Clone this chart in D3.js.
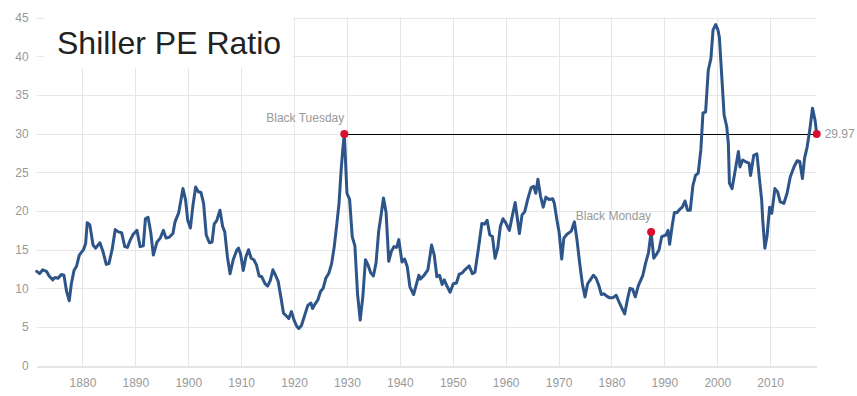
<!DOCTYPE html>
<html>
<head>
<meta charset="utf-8">
<script src="https://cdn.jsdelivr.net/npm/d3@7"></script>
<style>
  html, body { margin: 0; padding: 0; background: #fff; }
  svg { display: block; font-family: "Liberation Sans", Arial, sans-serif; }
</style>
</head>
<body>
<svg id="chart" width="857" height="396"></svg>
<script>
// ---- data ----
const years = [
  1871.35,1871.9,1872.5,1873.2,1873.7,1874.4,1874.8,1875.4,1876.0,1876.5,1877.0,1877.5,1877.9,1878.4,1878.9,1879.4,
  1880.2,1880.6,1880.9,1881.4,1882.0,1882.5,1883.3,1883.9,1884.5,1885.0,1885.6,1886.2,1886.8,1887.4,1888.0,1888.5,
  1889.0,1889.6,1890.3,1890.9,1891.5,1891.9,1892.4,1892.9,1893.4,1894.1,1894.7,1895.3,1895.8,1896.4,1897.1,1897.5,
  1898.2,1899.0,1899.5,1899.9,1900.4,1900.9,1901.4,1901.9,1902.4,1902.9,1903.4,1904.0,1904.5,1904.9,1905.4,1906.0,
  1906.5,1906.9,1907.4,1907.9,1908.5,1909.2,1909.5,1909.9,1910.4,1910.9,1911.4,1911.9,1912.4,1912.9,1913.4,1913.9,
  1914.5,1915.0,1915.5,1916.0,1916.5,1917.0,1917.5,1918.0,1918.6,1919.0,1919.5,1920.0,1920.5,1920.9,1921.4,1922.0,
  1922.6,1923.2,1923.5,1924.0,1924.5,1925.0,1925.5,1926.0,1926.6,1927.1,1927.6,1928.1,1928.5,1928.9,1929.2,1929.5,
  1930.0,1930.5,1931.0,1931.5,1932.0,1932.5,1933.0,1933.5,1934.0,1934.5,1935.0,1935.5,1936.0,1936.5,1936.9,1937.4,
  1937.9,1938.4,1938.9,1939.4,1939.8,1940.4,1940.9,1941.4,1941.9,1942.6,1943.6,1943.9,1944.6,1945.3,1946.0,1946.5,
  1947.0,1947.5,1948.0,1948.4,1948.9,1949.5,1950.1,1950.7,1951.2,1951.8,1952.3,1953.1,1953.7,1954.2,1954.8,1955.5,
  1956.0,1956.5,1957.0,1957.5,1958.0,1958.5,1959.0,1959.5,1960.0,1960.7,1961.3,1961.8,1962.6,1963.1,1963.6,1964.2,
  1964.8,1965.3,1965.7,1966.1,1966.6,1967.1,1967.6,1968.2,1968.9,1969.2,1969.7,1970.1,1970.6,1971.0,1971.6,1972.4,
  1973.0,1973.5,1974.0,1974.5,1975.0,1975.5,1976.0,1976.6,1977.1,1977.6,1978.1,1978.6,1979.1,1979.6,1980.3,1980.9,
  1981.4,1982.0,1982.5,1983.0,1983.5,1984.0,1984.5,1985.1,1985.9,1986.5,1987.0,1987.5,1988.0,1988.6,1989.0,1989.5,
  1990.3,1990.7,1991.0,1991.5,1991.9,1992.4,1992.9,1993.4,1993.9,1994.4,1994.9,1995.4,1995.9,1996.4,1996.9,1997.3,
  1997.8,1998.3,1998.8,1999.2,1999.7,2000.1,2000.4,2000.9,2001.3,2001.8,2002.1,2002.3,2002.8,2003.3,2004.0,2004.3,
  2004.8,2005.3,2006.0,2006.3,2006.9,2007.5,2008.0,2008.4,2008.6,2009.0,2009.4,2009.9,2010.3,2010.9,2011.4,2011.9,
  2012.6,2013.2,2013.8,2014.5,2015.1,2015.6,2016.1,2016.5,2017.0,2017.5,2018.0,2018.5,2018.8
];
const peRatio = [
  12.2,11.9,12.4,12.2,11.6,11.1,11.4,11.3,11.8,11.7,9.6,8.4,10.6,12.3,12.9,14.3,
  15.0,15.8,18.5,18.2,15.6,15.2,15.9,14.7,13.1,13.2,15.0,17.6,17.3,17.2,15.4,15.3,
  16.2,17.0,17.5,15.4,15.5,19.0,19.2,17.3,14.3,16.0,16.5,17.5,16.5,16.6,17.1,18.6,
  19.8,22.9,21.4,18.8,17.8,20.8,23.1,22.5,22.4,21.0,16.9,15.9,16.0,18.3,18.8,20.1,
  18.0,17.3,14.1,11.9,13.7,15.0,15.2,14.4,12.3,14.1,15.0,13.9,13.7,13.0,11.6,11.5,
  10.6,10.3,11.0,12.4,11.7,10.9,8.9,6.8,6.4,6.1,7.0,5.9,5.1,4.8,5.2,6.5,
  7.8,8.1,7.4,8.0,8.5,9.6,10.0,11.3,12.0,13.2,15.4,18.4,21.0,25.3,27.9,29.97,
  22.3,21.5,16.7,15.5,9.3,5.9,8.9,13.7,13.0,12.0,11.6,13.3,17.4,19.7,21.7,19.8,
  13.5,14.8,15.4,15.3,16.3,13.4,13.8,12.8,10.2,9.2,11.7,11.2,11.7,12.4,15.6,14.3,
  11.5,11.7,10.5,11.1,10.3,9.5,10.6,10.7,11.8,12.0,12.4,12.9,11.9,12.1,14.9,18.4,
  18.3,18.8,16.9,16.7,13.9,15.2,18.0,19.0,18.5,17.5,19.5,21.1,17.1,19.5,19.9,21.6,
  23.0,23.2,22.3,24.1,21.9,20.5,21.8,21.5,21.6,21.0,18.8,17.3,13.8,16.5,17.0,17.4,
  18.6,16.2,13.2,10.6,8.9,10.6,11.1,11.7,11.3,10.4,9.2,9.3,9.0,8.8,8.8,9.1,
  8.3,7.4,6.7,8.5,10.0,9.9,8.9,10.4,11.6,13.4,14.6,17.3,13.9,14.5,15.0,16.7,
  16.9,17.5,15.7,18.2,19.8,19.8,20.2,20.5,21.3,20.1,20.1,23.3,24.6,24.9,27.9,32.7,
  32.8,38.2,39.7,43.4,44.1,43.5,42.5,36.9,32.4,30.9,28.7,23.6,22.9,24.9,27.7,25.7,
  26.6,26.4,26.2,24.6,27.2,27.4,24.0,21.4,18.8,15.2,16.7,20.5,19.7,22.9,22.5,21.2,
  21.0,22.3,24.4,25.7,26.5,26.4,24.2,26.8,28.3,30.5,33.3,31.7,29.97
];
const yTicks = [0, 5, 10, 15, 20, 25, 30, 35, 40, 45];
const xTicks = [1880, 1890, 1900, 1910, 1920, 1930, 1940, 1950, 1960, 1970, 1980, 1990, 2000, 2010];
const eventNames = ["Black Tuesday", "Black Monday"];
const eventYears = [1929.5, 1987.5];
const chartTitle = "Shiller PE Ratio";

// ---- layout ----
const svg = d3.select("#chart");
const plotLeft = 36.7, plotRight = 816.7, plotTop = 17.7, plotBottom = 365.7;
const data = years.map((yr, i) => ({ x: yr, v: peRatio[i] }));

const x = d3.scaleLinear().domain(d3.extent(years)).range([plotLeft, plotRight]);
const y = d3.scaleLinear().domain([0, 45]).range([plotBottom, plotTop]);

// gridlines
const grid = svg.append("g");
grid.selectAll("line.h").data(yTicks.filter(t => t > 0)).join("line")
  .attr("x1", plotLeft).attr("x2", plotRight)
  .attr("y1", d => Math.round(y(d)) + 0.5).attr("y2", d => Math.round(y(d)) + 0.5)
  .attr("stroke", "#e6e6e6").attr("stroke-width", 1);
grid.selectAll("line.v").data(xTicks).join("line")
  .attr("x1", d => Math.round(x(d)) + 0.5).attr("x2", d => Math.round(x(d)) + 0.5)
  .attr("y1", plotTop).attr("y2", plotBottom)
  .attr("stroke", "#e6e6e6").attr("stroke-width", 1);

// bottom axis
const xAxis = d3.axisBottom(x).tickValues(xTicks).tickFormat(d3.format("d")).tickSize(0).tickPadding(12);
const gx = svg.append("g").attr("transform", `translate(0,${Math.round(plotBottom) + 0.5})`).call(xAxis);
gx.select(".domain").attr("stroke", "#ccc");
gx.selectAll("text").attr("fill", "#999").attr("font-size", "12px")
  .attr("font-family", "'Liberation Sans', Arial, sans-serif");

// left axis labels
const yAxis = d3.axisLeft(y).tickValues(yTicks).tickSize(0).tickPadding(8);
const gy = svg.append("g").attr("transform", `translate(${plotLeft},0)`).call(yAxis);
gy.select(".domain").remove();
gy.selectAll("text").attr("fill", "#999").attr("font-size", "12px")
  .attr("font-family", "'Liberation Sans', Arial, sans-serif");

// title box
svg.append("rect").attr("x", 44).attr("y", 8).attr("width", 249).attr("height", 60).attr("fill", "#fff");
svg.append("text").attr("x", 57).attr("y", 54).text(chartTitle)
  .attr("font-size", "32px").attr("fill", "#222");

// reference line from Black Tuesday to last point
const last = data[data.length - 1];
const bt = data.find(d => d.x === eventYears[0]);
const refY = Math.round(y(bt.v)) + 0.5;
svg.append("line")
  .attr("x1", x(bt.x)).attr("x2", x(last.x))
  .attr("y1", refY).attr("y2", refY)
  .attr("stroke", "#000").attr("stroke-width", 1);

// line
const line = d3.line().x(d => x(d.x)).y(d => y(d.v));
svg.append("path").datum(data).attr("d", line)
  .attr("fill", "none").attr("stroke", "#2d5589").attr("stroke-width", 3)
  .attr("stroke-linejoin", "round").attr("stroke-linecap", "round");

// event markers
eventYears.forEach((yr, i) => {
  const d = data.find(p => p.x === yr);
  svg.append("circle").attr("cx", x(d.x)).attr("cy", y(d.v)).attr("r", 4).attr("fill", "#d8102e");
  svg.append("text").attr("x", x(d.x)).attr("y", y(d.v) - 12)
    .attr("text-anchor", "end").attr("font-size", "12px").attr("fill", "#999")
    .text(eventNames[i]);
});

// last point
svg.append("circle").attr("cx", x(last.x)).attr("cy", y(last.v)).attr("r", 4).attr("fill", "#d8102e");
svg.append("text").attr("x", x(last.x) + 8).attr("y", y(last.v) + 4.5)
  .attr("font-size", "12px").attr("fill", "#999").text(d3.format(".2f")(last.v));
</script>
</body>
</html>
